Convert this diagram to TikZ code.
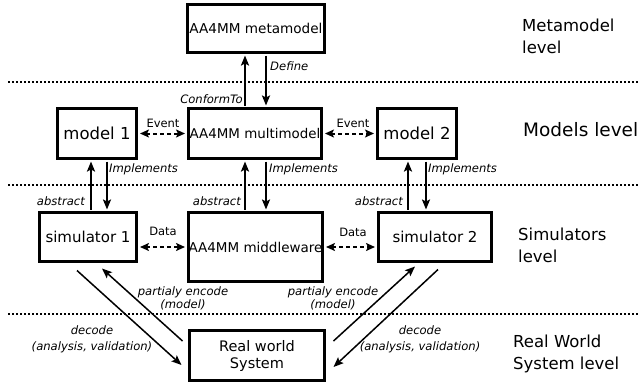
\documentclass[tikz,border=0pt]{standalone}
\usepackage{fontspec}
\setmainfont{DejaVu Sans}
\usetikzlibrary{arrows.meta}
\begin{document}
\begin{tikzpicture}[x=1pt,y=-1pt,
  box/.style={draw, line width=3pt, inner sep=0pt, align=center},
  arr/.style={line width=2pt, shorten <=1.5pt, shorten >=1.5pt, -{Stealth[length=10pt,width=8pt,inset=2pt]}},
  darr/.style={line width=2pt, dash pattern=on 4pt off 3pt, shorten <=2pt, shorten >=2pt, {Stealth[length=9pt,width=8pt,inset=2pt]}-{Stealth[length=9pt,width=8pt,inset=2pt]}},
  diag/.style={line width=1.5pt, -{Stealth[length=10pt,width=8pt,inset=2pt]}},
  lab/.style={font=\fontsize{11.6}{13}\selectfont\itshape, inner sep=0pt},
  labb/.style={font=\fontsize{11.6}{16}\selectfont\itshape, inner sep=0pt, align=center},
  small/.style={font=\fontsize{11.5}{13}\selectfont, inner sep=0pt},
  lvl/.style={font=\fontsize{16.5}{22}\selectfont, align=left, anchor=west, inner sep=0pt},
  dots/.style={line width=1.5pt, dash pattern=on 1.5pt off 2.5pt}
]
\useasboundingbox (0,0) rectangle (640,384);

% boxes
\node[box, minimum width=137pt, minimum height=48pt, font=\fontsize{13.6}{17}\selectfont] (meta) at (256,28.5) {AA4MM metamodel};
\node[box, minimum width=133pt, minimum height=50pt, font=\fontsize{13.4}{17}\selectfont] (mm) at (255,133.5) {AA4MM multimodel};
\node[box, minimum width=79pt, minimum height=50pt, font=\fontsize{16.5}{20}\selectfont] (m1) at (97,133.5) {model 1};
\node[box, minimum width=79pt, minimum height=50pt, font=\fontsize{16.5}{20}\selectfont] (m2) at (417,133.5) {model 2};
\node[box, minimum width=97pt, minimum height=49pt, font=\fontsize{15}{18}\selectfont] (s1) at (88,237) {simulator 1};
\node[box, minimum width=134pt, minimum height=69pt, font=\fontsize{13.5}{17}\selectfont] (mw) at (255.5,247) {AA4MM middleware};
\node[box, minimum width=113pt, minimum height=49pt, font=\fontsize{15}{18}\selectfont] (s2) at (435,237) {simulator 2};
\node[box, minimum width=135pt, minimum height=50pt, font=\fontsize{14.5}{17}\selectfont] (rw) at (257,355.5) {Real world\\System};

% dotted level separators
\draw[dots] (8,82) -- (640,82);
\draw[dots] (8,185) -- (640,185);
\draw[dots] (8,314) -- (640,314);

% columns for vertical arrows
\coordinate (xa) at (245,0);
\coordinate (xb) at (266,0);
\coordinate (x1a) at (91,0);
\coordinate (x1b) at (107,0);
\coordinate (x2a) at (408,0);
\coordinate (x2b) at (426,0);

\draw[arr] (mm.north -| xa) -- (meta.south -| xa);
\draw[arr] (meta.south -| xb) -- (mm.north -| xb);
\draw[arr] (s1.north -| x1a) -- (m1.south -| x1a);
\draw[arr] (m1.south -| x1b) -- (s1.north -| x1b);
\draw[arr] (mw.north -| xa) -- (mm.south -| xa);
\draw[arr] (mm.south -| xb) -- (mw.north -| xb);
\draw[arr] (s2.north -| x2a) -- (m2.south -| x2a);
\draw[arr] (m2.south -| x2b) -- (s2.north -| x2b);

% dashed exchanges
\draw[darr] (m1.east) -- (mm.west);
\draw[darr] (mm.east) -- (m2.west);
\draw[darr] (s1.east |- mw.west) -- (mw.west);
\draw[darr] (mw.east) -- (s2.west |- mw.east);

% diagonal arrows
\draw[diag] ([shift={(-11,7.5)}]s1.south) -- ([shift={(-6.5,9.5)}]rw.west);
\draw[diag] ([shift={(-5.5,-14.5)}]rw.west) -- ([shift={(14,5.5)}]s1.south);
\draw[diag] ([shift={(7.5,-14.5)}]rw.east) -- ([shift={(-20,3.5)}]s2.south);
\draw[diag] ([shift={(3,6.5)}]s2.south) -- ([shift={(7.5,11.5)}]rw.east);

% labels
\node[lab, anchor=west] (ldef) at (270,66) {Define};
\node[lab, anchor=east] (lconf) at (243,99) {ConformTo};
\node[lab, anchor=west] (li1) at (109,169) {Implements};
\node[lab, anchor=west] (li2) at (269,169) {Implements};
\node[lab, anchor=west] (li3) at (428,169) {Implements};
\node[lab, anchor=east] (la1) at (85,201) {abstract};
\node[lab, anchor=east] (la2) at (241,201) {abstract};
\node[lab, anchor=east] (la3) at (403,201) {abstract};
\node[small] (le1) at (163,123) {Event};
\node[small] (le2) at (353,123) {Event};
\node[small] (ld1) at (163,231) {Data};
\node[small] (ld2) at (353,232) {Data};
\node[lab, align=center] (lp1) at (183,298.5) {partialy encode\\(model)};
\node[lab, align=center] (lp2) at (333,298.5) {partialy encode\\(model)};
\node[labb] (lc1) at (92,339) {decode\\(analysis, validation)};
\node[labb] (lc2) at (420,339) {decode\\(analysis, validation)};

% level names
\node[lvl] (lv1) at (522,36) {Metamodel\\level};
\node[lvl, font=\fontsize{18.5}{22}\selectfont] (lv2) at (523,130) {Models level};
\node[lvl] (lv3) at (518,245) {Simulators\\level};
\node[lvl] (lv4) at (513,354) {Real World\\System level};
\end{tikzpicture}
\end{document}
